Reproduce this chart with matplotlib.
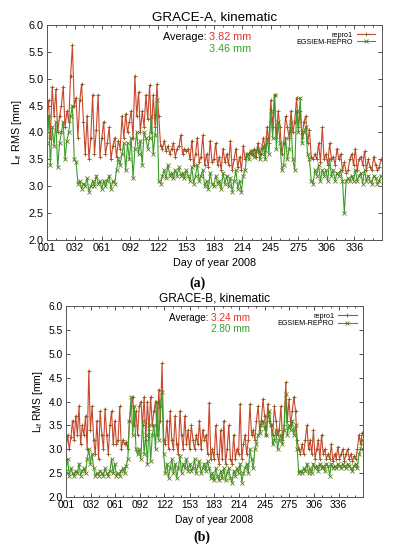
import numpy as np
import matplotlib
matplotlib.use("Agg")
import matplotlib.pyplot as plt
from matplotlib.ticker import FixedLocator

plt.rcParams['font.family'] = ['Liberation Sans', 'DejaVu Sans']
plt.rcParams['mathtext.fontset'] = 'custom'
plt.rcParams['mathtext.rm'] = 'Liberation Sans'
plt.rcParams['mathtext.it'] = 'Liberation Sans'

# ---------------- data ----------------
days = list(range(1, 366, 2))
tick_days = [1, 32, 61, 92, 122, 153, 183, 214, 245, 275, 306, 336]
tick_labels = ["001", "032", "061", "092", "122", "153", "183", "214", "245", "275", "306", "336"]

a_repro1 = [
    4.25, 4.6, 3.9, 4.85, 4.3, 4.8, 4.0, 4.3, 4.5, 4.85, 4.1, 4.4, 4.2, 5.05, 5.62, 4.5,
    4.65, 3.9, 4.6, 4.9, 4.2, 3.6, 4.3, 3.5, 3.9, 4.7, 3.6, 4.05, 4.7, 3.55, 3.9,
    4.2, 3.6, 3.8, 4.1, 3.5, 3.75, 3.9, 3.55, 3.85, 3.7, 4.3, 3.9, 4.35, 4.0, 4.2,
    4.4, 3.9, 5.05, 4.3, 4.75, 4.0, 4.4, 4.1, 4.7, 4.25, 4.88, 4.0, 4.7, 4.1, 4.9,
    4.3, 3.75, 3.7, 3.85, 3.65, 3.75, 3.6, 3.7, 3.8, 3.55, 3.7, 3.75, 3.95, 3.6, 3.7,
    3.65, 3.7, 3.5, 3.85, 3.4, 3.6, 3.9, 3.45, 3.55, 3.95, 3.4, 3.6, 3.35, 3.85, 3.45,
    3.5, 3.8, 3.4, 3.55, 3.3, 3.7, 3.45, 3.6, 3.4, 3.85, 3.3, 3.5, 3.7, 3.35, 3.55,
    3.3, 3.75, 3.5, 3.6, 3.6, 3.65, 3.6, 3.7, 3.55, 3.8, 3.6, 3.7, 3.9, 3.65, 4.1,
    3.8, 4.6, 4.1, 4.7, 3.9, 4.4, 4.1, 3.6, 3.8, 4.3, 4.1, 3.9, 4.4, 4.0, 4.2,
    4.65, 4.1, 4.4, 3.9, 4.2, 4.3, 3.8, 4.05, 3.55, 3.5, 3.6, 3.5, 3.8, 3.45, 4.1,
    3.5, 3.6, 3.4, 3.8, 3.5, 3.55, 3.4, 3.7, 3.5, 3.6, 3.3, 3.45, 3.25, 3.3, 3.5,
    3.6, 3.4, 3.7, 3.3, 3.5, 3.55, 3.4, 3.65, 3.3, 3.5, 3.35, 3.3, 3.55, 3.4, 3.3, 3.35, 3.5,
]
a_egsiem = [
    3.8, 4.3, 3.4, 4.1, 3.75, 4.2, 3.35, 3.8, 4.0, 4.2, 3.5, 3.85, 4.0, 4.3, 4.5, 3.5,
    3.45, 3.05, 3.1, 2.95, 3.05, 3.0, 3.15, 2.9, 3.0, 3.1, 3.0, 3.2, 3.05, 3.1, 2.95,
    3.1, 3.0, 3.1, 3.2, 2.95, 3.1, 3.05, 3.3, 3.5, 3.4, 3.6, 3.8, 3.3, 3.8, 3.5,
    3.9, 3.15, 3.7, 4.0, 3.6, 3.85, 3.4, 4.0, 3.9, 3.7, 3.9, 4.3, 3.6, 3.95, 4.6,
    3.1, 3.05, 3.2, 3.3, 3.15, 3.4, 3.2, 3.25, 3.15, 3.3, 3.2, 3.35, 3.2, 3.25, 3.15,
    3.3, 3.2, 3.1, 3.35, 3.05, 3.2, 3.4, 3.1, 3.2, 3.3, 3.0, 3.1, 2.95, 3.25, 3.05,
    3.0, 3.2, 3.05, 3.1, 2.95, 3.25, 3.05, 3.2, 3.0, 3.15, 2.9, 3.1, 3.3, 2.95, 3.1,
    2.9, 3.2, 3.3, 3.6, 3.5, 3.65, 3.6, 3.55, 3.65, 3.7, 3.5, 3.6, 3.75, 3.5, 3.9,
    3.6, 4.4, 3.9, 4.7, 3.7, 4.2, 3.8, 3.3, 3.4, 3.9, 3.5, 3.7, 4.2, 3.5, 3.3,
    4.4, 4.0, 4.65, 3.8, 4.0, 4.1, 3.6, 3.5, 3.1, 3.05, 3.3, 3.2, 3.4, 3.1, 3.3,
    3.2, 3.3, 3.1, 3.5, 3.2, 3.3, 3.1, 3.25, 3.2, 3.3, 3.1, 2.5, 3.1, 3.15, 3.1,
    3.2, 3.1, 3.3, 3.1, 3.2, 3.25, 3.05, 3.3, 3.1, 3.2, 3.1, 3.05, 3.2, 3.15, 3.05, 3.1, 3.2,
]
b_repro1 = [
    3.0, 3.3, 3.0, 3.25, 3.6, 3.2, 3.7, 3.3, 3.9, 3.1, 3.5, 3.3, 3.7, 3.0, 4.65, 3.4,
    3.9, 3.2, 2.9, 3.6, 2.8, 3.8, 3.3, 3.0, 3.85, 3.3, 2.9, 3.5, 3.8, 3.1, 3.6,
    3.1, 3.2, 3.9, 3.0, 3.2, 3.1, 3.15, 3.0, 3.6, 3.9, 4.1, 3.5, 3.8, 3.3, 3.9,
    4.0, 3.5, 4.1, 3.2, 4.0, 3.4, 4.1, 3.5, 3.8, 4.0, 3.3, 4.25, 3.6, 4.8, 3.2,
    3.1, 3.6, 3.0, 3.8, 3.2, 3.0, 3.7, 3.1, 2.9, 3.8, 3.3, 3.0, 3.7, 3.1, 3.4,
    3.0, 3.5, 3.2, 3.0, 3.3, 3.1, 3.6, 3.0, 3.4, 3.2, 3.3, 2.9, 3.98, 2.8, 3.0,
    2.8, 3.5, 2.9, 2.7, 3.4, 2.8, 3.6, 2.7, 3.0, 3.5, 2.8, 2.7, 3.3, 2.8, 3.0,
    2.9, 3.95, 2.8, 3.1, 3.3, 2.9, 3.2, 3.95, 3.3, 3.4, 3.2, 3.6, 3.9, 3.4, 3.6,
    4.05, 3.7, 3.3, 3.95, 3.6, 3.5, 3.3, 3.9, 3.6, 3.3, 3.4, 3.9, 3.2, 3.5, 4.4,
    3.6, 4.05, 3.5, 3.8, 4.1, 3.8, 3.2, 3.0, 2.9, 3.1, 2.9, 3.2, 3.5, 3.0, 3.2,
    2.9, 3.4, 2.8, 3.0, 3.2, 2.8, 3.3, 2.9, 3.0, 2.8, 2.9, 2.8, 3.1, 2.75, 2.9,
    2.8, 3.05, 2.8, 2.9, 3.0, 2.75, 2.9, 3.0, 2.8, 2.9, 2.75, 2.85, 2.8, 3.0, 3.3, 3.1, 3.35,
]
b_egsiem = [
    2.55, 2.8, 2.45, 2.6, 2.5, 2.45, 2.55, 2.5, 2.7, 2.45, 2.55, 2.6, 2.5, 2.8, 3.0, 2.7,
    2.9, 2.6, 2.45, 2.5, 2.45, 2.55, 2.5, 2.45, 2.6, 2.5, 2.45, 2.55, 2.8, 2.5, 2.7,
    2.45, 2.5, 2.45, 2.55, 2.6, 2.5, 2.65, 2.8, 3.6, 4.1, 3.3, 3.9, 3.0, 2.9, 3.0,
    2.8, 3.6, 2.9, 3.3, 2.7, 3.5, 2.75, 3.3, 3.5, 3.0, 4.0, 3.2, 3.9, 4.2, 2.9,
    2.5, 2.7, 2.4, 2.6, 2.8, 2.5, 2.7, 2.4, 2.6, 2.85, 2.5, 2.7, 2.6, 2.8, 2.55,
    2.7, 2.55, 2.6, 2.8, 2.5, 2.65, 2.75, 2.5, 2.6, 2.7, 2.55, 2.75, 2.6, 2.4, 2.5,
    2.35, 2.6, 2.45, 2.35, 2.55, 2.4, 2.6, 2.35, 2.5, 2.6, 2.4, 2.3, 2.55, 2.45, 2.6,
    2.5, 2.7, 2.3, 2.5, 2.6, 2.7, 2.5, 3.0, 2.8, 2.6, 3.0, 3.1, 3.3, 3.35, 3.5,
    3.6, 3.45, 3.3, 3.7, 3.8, 3.5, 3.1, 3.2, 3.4, 3.0, 3.2, 3.3, 3.1, 3.4, 4.15,
    3.3, 3.5, 3.4, 3.6, 3.3, 3.5, 3.0, 2.5, 2.55, 2.5, 2.6, 2.55, 2.7, 2.5, 2.6,
    2.5, 2.7, 2.6, 2.65, 2.55, 2.7, 2.6, 2.65, 2.55, 2.7, 2.65, 2.45, 2.7, 2.6, 2.65,
    2.6, 2.7, 2.65, 2.6, 2.7, 2.65, 2.6, 2.7, 2.65, 2.6, 2.55, 2.65, 2.7, 2.6, 2.9, 3.0, 3.2,
]
avg_a = ["3.82 mm", "3.46 mm"]
avg_b = ["3.24 mm", "2.80 mm"]
titles = ["GRACE-A, kinematic", "GRACE-B, kinematic"]
series_names = ["repro1", "EGSIEM-REPRO"]

RED_LINE = '#c8472c'
RED_MK = '#8a5a1c'
GRN_LINE = '#3a9e2a'
GRN_MK = '#5e7a1a'
AVG_RED = '#e8302a'
AVG_GRN = '#3aa02a'

fig = plt.figure(figsize=(3.94, 5.50), dpi=100)

axA = fig.add_axes([0.1185, 0.5636, 0.851, 0.391])
axB = fig.add_axes([0.1675, 0.0964, 0.754, 0.347])

def minor_positions(ticks):
    out = []
    allt = ticks + [366]
    for a, b in zip(allt[:-1], allt[1:]):
        out += [a + (b - a) / 3.0, a + 2 * (b - a) / 3.0]
    return out

def style(ax, title, avg, fs, tfs):
    ax.set_xlim(1, 366)
    ax.set_ylim(2.0, 6.0)
    ax.xaxis.set_major_locator(FixedLocator(tick_days))
    ax.xaxis.set_minor_locator(FixedLocator(minor_positions(tick_days)))
    ax.set_xticklabels(tick_labels)
    ax.set_yticks(np.arange(2.0, 6.01, 0.5))
    ax.set_yticklabels([f"{v:.1f}" for v in np.arange(2.0, 6.01, 0.5)])
    ax.tick_params(which='both', direction='in', top=True, right=True,
                   labelsize=fs, colors='#333333', labelcolor='black', width=0.6)
    ax.tick_params(which='major', length=3, pad=2)
    ax.tick_params(which='minor', length=1.5)
    for s in ax.spines.values():
        s.set_color('#555555')
        s.set_linewidth(0.7)
    ax.set_title(title, fontsize=tfs, pad=3)
    ax.set_xlabel("Day of year 2008", fontsize=fs, labelpad=4)
    ax.set_ylabel(r"L$_{\mathregular{if}}$ RMS [mm]", fontsize=fs, labelpad=3)

def draw(ax, r, g):
    ax.plot(days, r, color=RED_LINE, lw=0.8, marker='+', ms=2.6, mew=0.6,
            mec=RED_MK, label=series_names[0], zorder=2)
    ax.plot(days, g, color=GRN_LINE, lw=0.8, marker='x', ms=2.2, mew=0.6,
            mec=GRN_MK, label=series_names[1], zorder=3)
    leg = ax.legend(loc='upper right', frameon=False, markerfirst=False,
                    fontsize=5.2, handlelength=2.6, labelspacing=0.05,
                    borderaxespad=0.5, handletextpad=0.5)

draw(axA, a_repro1, a_egsiem)
style(axA, titles[0], avg_a, 7.8, 9.6)
draw(axB, b_repro1, b_egsiem)
style(axB, titles[1], avg_b, 7.4, 8.6)

# averages
axA.text(0.485, 0.945, "Average: ", transform=axA.transAxes, ha='right', va='center', fontsize=7.8)
axA.text(0.485, 0.945, avg_a[0], transform=axA.transAxes, ha='left', va='center', fontsize=7.8, color=AVG_RED)
axA.text(0.485, 0.890, avg_a[1], transform=axA.transAxes, ha='left', va='center', fontsize=7.8, color=AVG_GRN)
axB.text(0.488, 0.940, "Average: ", transform=axB.transAxes, ha='right', va='center', fontsize=7.2)
axB.text(0.488, 0.940, avg_b[0], transform=axB.transAxes, ha='left', va='center', fontsize=7.2, color=AVG_RED)
axB.text(0.488, 0.880, avg_b[1], transform=axB.transAxes, ha='left', va='center', fontsize=7.2, color=AVG_GRN)

fig.text(0.5, 1 - 283 / 550, "(a)", ha='center', va='center', fontsize=10,
         fontweight='bold', family='Liberation Serif')
fig.text(0.513, 1 - 537 / 550, "(b)", ha='center', va='center', fontsize=10,
         fontweight='bold', family='Liberation Serif')

fig.savefig("out.png", dpi=100)
